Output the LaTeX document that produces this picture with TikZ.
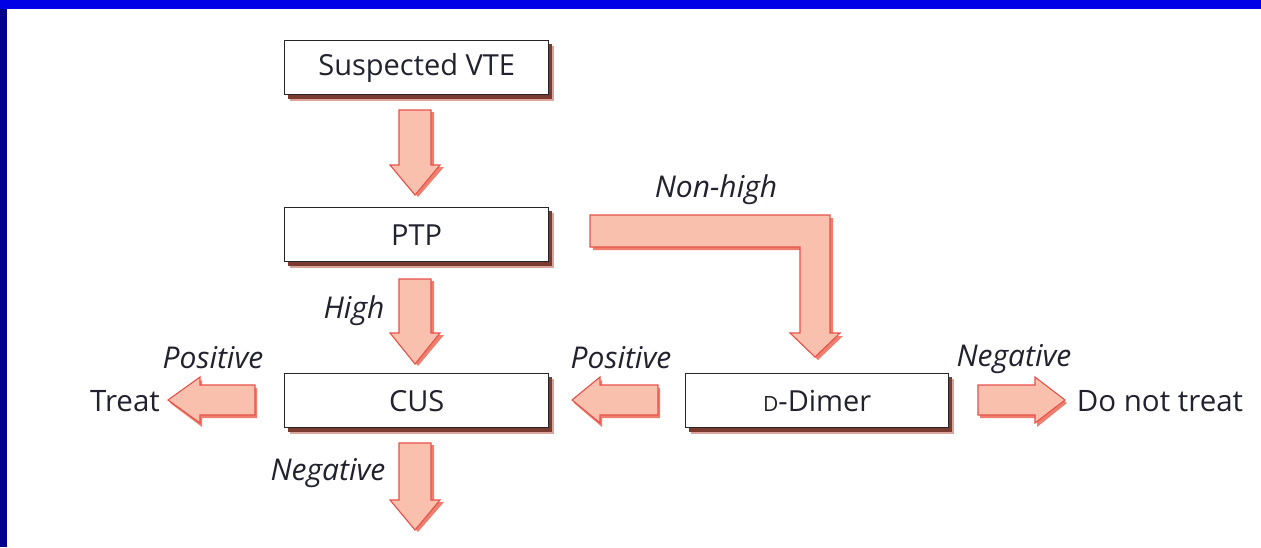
\documentclass[tikz,border=0pt]{standalone}
\usepackage{fontspec}
\setmainfont{Open Sans}
\definecolor{txt}{HTML}{22222E}
\definecolor{arrfill}{HTML}{F9C0AD}
\definecolor{arredge}{HTML}{E8504A}
\definecolor{arrshadow}{HTML}{EE7F6E}
\definecolor{boxshadow}{HTML}{7A3A30}
\definecolor{boxshadowlight}{HTML}{D9A59A}
\definecolor{bandblue}{HTML}{0000E6}
\definecolor{banddark}{HTML}{00008E}
\newcommand\BlockDown[4]{% x, ytop, yhead, ytip
  \fill[arrshadow] ({#1-16+3},{#2+2}) -- ({#1+16+3},{#2+2}) -- ({#1+16+3},{#3+2}) -- ({#1+26+3},{#3+2}) -- ({#1+3},{#4+2}) -- ({#1-25+3},{#3+2}) -- ({#1-16+3},{#3+2}) -- cycle;
  \filldraw[arrow body] ({#1-16},{#2}) -- ({#1+16},{#2}) -- ({#1+16},{#3}) -- ({#1+25},{#3}) -- ({#1},{#4}) -- ({#1-25},{#3}) -- ({#1-16},{#3}) -- cycle;}
\newcommand\BlockHoriz[4]{% y, xtail, xhead, xtip
  \fill[arrshadow] ({#2+2},{#1-15+3}) -- ({#3+2},{#1-15+3}) -- ({#3+2},{#1-23+3}) -- ({#4+2},{#1+3}) -- ({#3+2},{#1+24+3}) -- ({#3+2},{#1+15+3}) -- ({#2+2},{#1+15+3}) -- cycle;
  \filldraw[arrow body] ({#2},{#1-15}) -- ({#3},{#1-15}) -- ({#3},{#1-23}) -- ({#4},{#1}) -- ({#3},{#1+23}) -- ({#3},{#1+15}) -- ({#2},{#1+15}) -- cycle;}
\tikzset{
  arrow body/.style={fill=arrfill, draw=arredge, line width=1.1pt, line join=miter},
  flowbox/.style={draw=black!85, line width=1.4pt, fill=white, minimum width=264pt, minimum height=54pt, inner sep=0pt, text=txt, font=\fontsize{29}{32}\selectfont},
  lbl/.style={text=txt, font=\fontsize{30}{32}\selectfont\itshape, inner sep=0pt},
  outtxt/.style={text=txt, font=\fontsize{29.5}{32}\selectfont, inner sep=0pt},
}
\begin{document}
\begin{tikzpicture}[x=1pt,y=-1pt]
\useasboundingbox (0,0) rectangle (1261,547);
\fill[white] (0,0) rectangle (1261,547);
\fill[bandblue] (0,0) rectangle (1261,9);
\fill[banddark] (0,9) rectangle (7,547);
% box shadows
\foreach \x/\y/\w in {284/40/264, 284/207/264, 284/373/264, 685/373/263}{
  \fill[boxshadowlight] (\x+6,\y+6) rectangle (\x+\w+6,\y+55+6);
  \fill[boxshadow] (\x+4,\y+4) rectangle (\x+\w+4,\y+55+4);
}
\node[flowbox, anchor=north west] (vte) at (284,40) {Suspected VTE};
\node[flowbox, anchor=north west] (ptp) at (284,207) {PTP};
\node[flowbox, anchor=north west] (cus) at (284,373) {CUS};
\node[flowbox, anchor=north west, minimum width=263pt] (dd) at (685,373) {{\fontsize{21}{21}\selectfont D}-Dimer};
% vertical arrows
\BlockDown{415}{110}{165}{195}
\BlockDown{415}{279}{333}{364}
\BlockDown{415}{443}{500}{530}
% L-shaped arrow
\fill[arrshadow] (593,218) -- (833,218) -- (833,336) -- (843,336) -- (818,360) -- (793,336) -- (803,336) -- (803,250) -- (593,250) -- cycle;
\filldraw[arrow body] (590,215) -- (830,215) -- (830,333) -- (840,333) -- (815,357) -- (790,333) -- (800,333) -- (800,247) -- (590,247) -- cycle;
% horizontal arrows
\BlockHoriz{400}{255}{200}{168}
\BlockHoriz{400}{658}{600}{572}
\BlockHoriz{400}{978}{1035}{1065}
% labels
\node[lbl] (lnh) at (716,190) {Non-high};
\node[lbl] (lhigh) at (354,311) {High};
\node[lbl] (lpos1) at (213,358) {Positive};
\node[lbl] (lpos2) at (621,358) {Positive};
\node[lbl] (lneg1) at (1014,359) {Negative};
\node[lbl] (lneg2) at (328,473) {Negative};
\node[outtxt] (treat) at (125,401) {Treat};
\node[outtxt] (dnt) at (1160,401) {Do not treat};
\end{tikzpicture}
\end{document}
